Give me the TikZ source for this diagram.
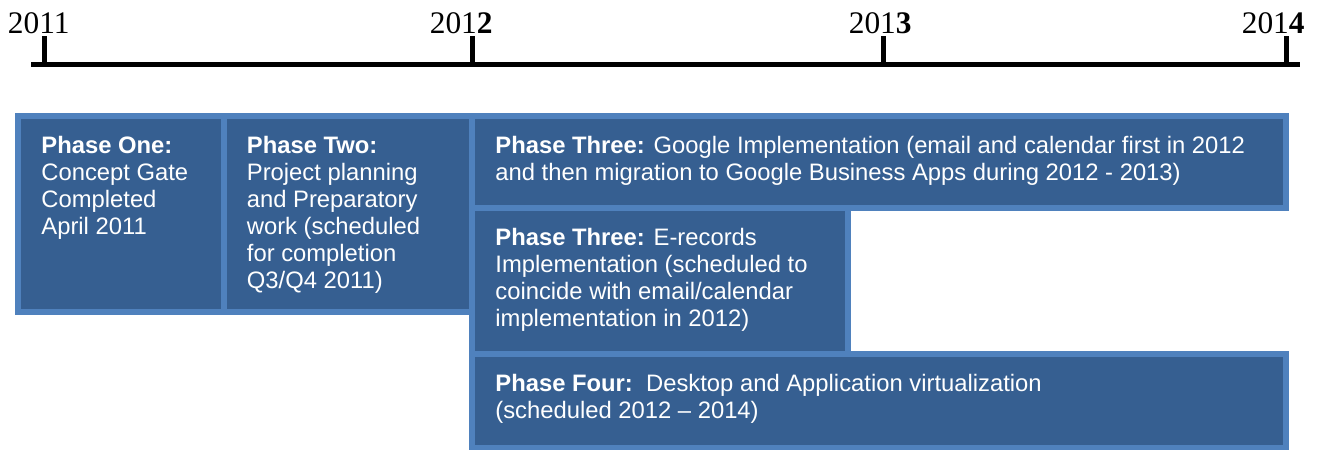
\documentclass[tikz,border=0pt]{standalone}
\usepackage{fontspec}
\setmainfont{Liberation Sans}
\newfontfamily\yearfont{Liberation Serif}
\usepackage{xcolor}
\usepackage{tikz}
\usetikzlibrary{positioning}
\definecolor{phasefill}{HTML}{365F91}
\definecolor{phaseline}{HTML}{4F81BD}
\tikzset{
	phasebox/.style={fill=phasefill,draw=phaseline,line width=3pt},
	phasetext/.style={anchor=north west,inner sep=0pt,align=left,text=white,
		font=\fontsize{11.9}{13.5}\selectfont},
	year/.style={anchor=base east,inner sep=0pt,font=\yearfont\fontsize{15.7}{18}\selectfont},
	axis/.style={line width=2.5pt}
}

\begin{document}
\begin{tikzpicture}[x=0.5pt,y=-0.5pt]
		\useasboundingbox (0,0) rectangle (1318,450);
		%
		\coordinate (L) at (31,64);
		\coordinate (R) at (1300,64);
		\coordinate (T1) at (44.5,36);
		\coordinate (T2) at (472.5,36);
		\coordinate (T3) at (883.5,36);
		\coordinate (T4) at (1286.5,36);
		\node[year] (Y1) at (70,33) {2011};
		\node[year] (Y2) at (493,33) {201\textbf{2}};
		\node[year] (Y3) at (912,33) {201\textbf{3}};
		\node[year] (Y4) at (1305,33) {201\textbf{4}};
		%
		\draw[axis] (L) -- (R);
		\draw[axis] (T1) -- (T1 |- L);
		\draw[axis] (T2) -- (T2 |- L);
		\draw[axis] (T3) -- (T3 |- L);
		\draw[axis] (T4) -- (T4 |- L);
		%
		\path[phasebox] (18,116) rectangle (223.5,312);
		\path[phasebox] (223.5,116) rectangle (472,312);
		\path[phasebox] (472,116) rectangle (1286,208);
		\path[phasebox] (472,208) rectangle (848,354);
		\path[phasebox] (472,354) rectangle (1286,448);
		%
		\node[phasetext] (P1) at (41,134)
			{\strut\textbf{Phase One:}\\ Concept Gate\\ Completed\\ April 2011};
		\node[phasetext] (P2) at (246.5,134)
			{\strut\textbf{Phase Two:}\\ Project planning\\ and Preparatory\\ work (scheduled\\ for completion\\ Q3/Q4 2011)};
		\node[phasetext] (P3) at (495,134)
			{\strut\textbf{Phase Three:} Google Implementation (email and calendar first in 2012\\ and then migration to Google Business Apps during 2012 - 2013)};
		\node[phasetext] (P3') at (495,226)
			{\strut\textbf{Phase Three:} E-records\\ Implementation (scheduled to\\ coincide with email/calendar\\ implementation in 2012)};
		\node[phasetext] (P4) at (495,372)
			{\strut\textbf{Phase Four:}\ \ Desktop and Application virtualization\\ (scheduled 2012 -- 2014)};
		\end{tikzpicture}
\end{document}
